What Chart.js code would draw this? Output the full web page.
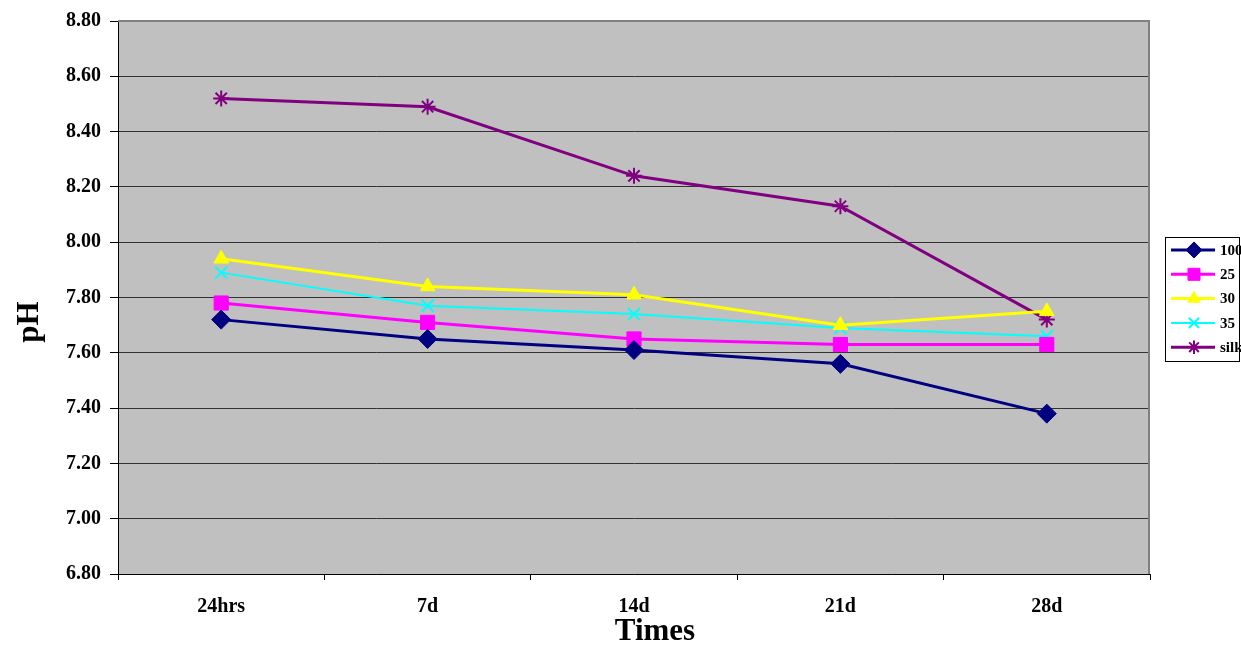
<!DOCTYPE html>
<html>
<head>
<meta charset="utf-8">
<script src="https://cdn.jsdelivr.net/npm/chart.js@4"></script>
<style>
  html, body { margin: 0; padding: 0; background: #fff; }
  #wrap { width: 1241px; height: 646px; }
</style>
</head>
<body>
<div id="wrap"><canvas id="ph_chart" width="1241" height="646"></canvas></div>
<script>
// data
var times = ["24hrs", "7d", "14d", "21d", "28d"];
var series_names = ["100", "25", "30", "35", "silk"];
var ph_100 = [7.72, 7.65, 7.61, 7.56, 7.38];
var ph_25 = [7.78, 7.71, 7.65, 7.63, 7.63];
var ph_30 = [7.94, 7.84, 7.81, 7.70, 7.75];
var ph_35 = [7.89, 7.77, 7.74, 7.69, 7.66];
var ph_silk = [8.52, 8.49, 8.24, 8.13, 7.72];
var y_min = 6.8, y_max = 8.8, y_step = 0.2;

var serif = "'Liberation Serif', 'Times New Roman', serif";

var styles = [
  { color: "#000080", point: "rectRot", radius: 9.5, width: 3 },
  { color: "#FF00FF", point: "rect", radius: 10, width: 3 },
  { color: "#FFFF00", point: "triangle", radius: 8.5, width: 3 },
  { color: "#00FFFF", point: "crossRot", radius: 8.5, width: 2 },
  { color: "#800080", point: "star", radius: 8, width: 3 },
];
var values = [ph_100, ph_25, ph_30, ph_35, ph_silk];

var datasets = series_names.map(function (name, i) {
  var s = styles[i];
  return {
    label: name,
    data: values[i],
    borderColor: s.color,
    backgroundColor: s.color,
    borderWidth: s.width,
    pointStyle: s.point,
    pointRadius: s.radius,
    pointBorderWidth: s.point === "crossRot" || s.point === "star" ? 2 : 1,
    pointHoverRadius: s.radius,
    tension: 0,
  };
});

// gray plot area with a gray frame on top and right
var plotArea = {
  id: "plotArea",
  beforeDraw: function (chart) {
    var a = chart.chartArea, ctx = chart.ctx;
    ctx.save();
    ctx.fillStyle = "#C0C0C0";
    ctx.fillRect(a.left, a.top, a.right - a.left, a.bottom - a.top);
    ctx.restore();
  },
  beforeDatasetsDraw: function (chart) {
    var a = chart.chartArea, ctx = chart.ctx;
    ctx.save();
    ctx.strokeStyle = "#808080";
    ctx.lineWidth = 2;
    ctx.beginPath();
    ctx.moveTo(a.left, a.top);
    ctx.lineTo(a.right - 1, a.top);
    ctx.lineTo(a.right - 1, a.bottom);
    ctx.stroke();
    ctx.restore();
  },
};

// axis titles sit a little off centre in the original, so draw them here
var axisTitles = {
  id: "axisTitles",
  afterDraw: function (chart) {
    var ctx = chart.ctx;
    ctx.save();
    ctx.fillStyle = "#000";
    ctx.font = "bold 31px " + serif;
    ctx.textAlign = "center";
    ctx.textBaseline = "middle";
    ctx.fillText("Times", 655, 632);
    ctx.translate(30, 322);
    ctx.rotate(-Math.PI / 2);
    ctx.fillText("pH", 0, 0);
    ctx.restore();
  },
};

// legend box on the right, line + marker like the original
var boxLegend = {
  id: "boxLegend",
  afterDraw: function (chart) {
    var ctx = chart.ctx;
    var x0 = 1165, y0 = 237, w = 75, h = 125;
    ctx.save();
    ctx.strokeStyle = "#000";
    ctx.lineWidth = 1;
    ctx.strokeRect(x0 + 0.5, y0 + 0.5, w - 1, h - 1);
    series_names.forEach(function (name, i) {
      var s = styles[i];
      var y = y0 + 13 + i * 24.3;
      ctx.strokeStyle = s.color;
      ctx.fillStyle = s.color;
      ctx.lineWidth = s.width;
      ctx.beginPath();
      ctx.moveTo(x0 + 6, y);
      ctx.lineTo(x0 + 50, y);
      ctx.stroke();
      ctx.lineWidth = s.point === "crossRot" || s.point === "star" ? 2 : 1;
      Chart.helpers.drawPoint(ctx, { pointStyle: s.point, radius: s.radius * 0.85, rotation: 0, borderWidth: ctx.lineWidth }, x0 + 29, y);
      ctx.fillStyle = "#000";
      ctx.font = "bold 15px " + serif;
      ctx.textBaseline = "middle";
      ctx.fillText(name, x0 + 55, y + 1);
    });
    ctx.restore();
  },
};

new Chart(document.getElementById("ph_chart"), {
  type: "line",
  data: { labels: times, datasets: datasets },
  plugins: [plotArea, axisTitles, boxLegend],
  options: {
    responsive: false,
    animation: false,
    layout: { padding: { left: 0, right: 91, top: 20, bottom: 0 } },
    plugins: {
      legend: { display: false },
      tooltip: { enabled: false },
    },
    scales: {
      x: {
        offset: true,
        grid: {
          offset: true,
          drawOnChartArea: false,
          drawTicks: true,
          tickLength: 6,
          color: "#000",
        },
        border: { color: "#000", width: 1 },
        ticks: {
          color: "#000",
          font: { family: serif, size: 20, weight: "bold" },
          padding: 15,
          maxRotation: 0,
        },
        afterFit: function (scale) {
          scale.height = 72;
        },
      },
      y: {
        min: y_min,
        max: y_max,
        ticks: {
          stepSize: y_step,
          color: "#000",
          font: { family: serif, size: 20, weight: "bold" },
          padding: 9,
          callback: function (v) {
            return Number(v).toFixed(2);
          },
        },
        grid: {
          color: "#333",
          lineWidth: 1,
          tickLength: 8,
          tickColor: "#000",
        },
        border: { color: "#000", width: 1 },
        afterFit: function (scale) {
          scale.width = 118;
        },
      },
    },
  },
});
</script>
</body>
</html>
